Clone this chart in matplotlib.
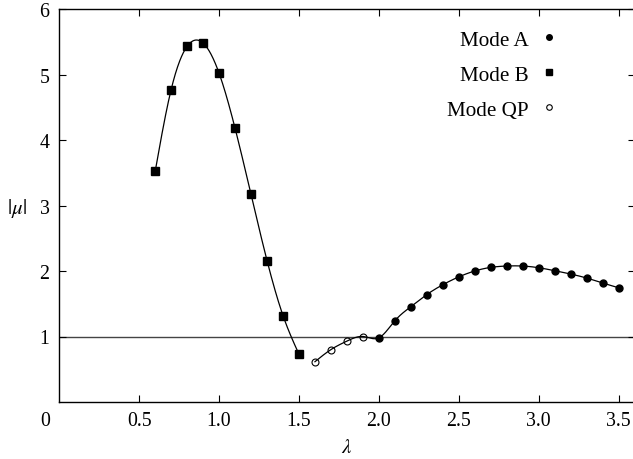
import numpy as np
import matplotlib.pyplot as plt

plt.rcParams['font.family'] = ['Liberation Serif', 'DejaVu Serif']
plt.rcParams['mathtext.fontset'] = 'stix'

# data
lam_b = [0.6, 0.7, 0.8, 0.9, 1.0, 1.1, 1.2, 1.3, 1.4, 1.5]
mu_b = [3.52, 4.77, 5.43, 5.48, 5.02, 4.18, 3.17, 2.16, 1.32, 0.73]

lam_qp = [1.6, 1.7, 1.8, 1.9]
mu_qp = [0.615, 0.80, 0.93, 1.00]

lam_a = [2.0, 2.1, 2.2, 2.3, 2.4, 2.5, 2.6, 2.7, 2.8, 2.9, 3.0, 3.1, 3.2, 3.3, 3.4, 3.5]
mu_a = [0.98, 1.24, 1.455, 1.64, 1.79, 1.91, 2.0, 2.055, 2.076, 2.076, 2.05, 2.005,
        1.954, 1.893, 1.817, 1.745]

x_ticks = [0.5, 1.0, 1.5, 2.0, 2.5, 3.0, 3.5]
y_ticks = [1, 2, 3, 4, 5, 6]


def csplines(x, y, n=400):
    # natural cubic spline through the points (like gnuplot smooth csplines)
    x = np.asarray(x, float)
    y = np.asarray(y, float)
    m = len(x)
    h = np.diff(x)
    A = np.zeros((m, m))
    r = np.zeros(m)
    A[0, 0] = A[-1, -1] = 1
    for i in range(1, m - 1):
        A[i, i - 1] = h[i - 1]
        A[i, i] = 2 * (h[i - 1] + h[i])
        A[i, i + 1] = h[i]
        r[i] = 6 * ((y[i + 1] - y[i]) / h[i] - (y[i] - y[i - 1]) / h[i - 1])
    M = np.linalg.solve(A, r)
    xs = np.linspace(x[0], x[-1], n)
    k = np.clip(np.searchsorted(x, xs) - 1, 0, m - 2)
    t1 = x[k + 1] - xs
    t0 = xs - x[k]
    hk = h[k]
    ys = (M[k] * t1 ** 3 / (6 * hk) + M[k + 1] * t0 ** 3 / (6 * hk)
          + (y[k] / hk - M[k] * hk / 6) * t1 + (y[k + 1] / hk - M[k + 1] * hk / 6) * t0)
    return xs, ys


fig = plt.figure(figsize=(6.33, 4.60), dpi=100)
ax = fig.add_axes([59.3 / 633, 57 / 460, (634.5 - 59.3) / 633, (403 - 10) / 460])

ax.axhline(1, color='#444444', lw=1.0, zorder=1)

xs, ys = csplines(lam_b, mu_b)
ax.plot(xs, ys, color='black', lw=0.9, zorder=2)
xs, ys = csplines(lam_qp + lam_a, mu_qp + mu_a)
ax.plot(xs, ys, color='black', lw=0.9, zorder=2)

ax.plot(lam_a, mu_a, ls='none', marker='o', ms=5.0, color='black', label='Mode A', zorder=3)
ax.plot(lam_b, mu_b, ls='none', marker='s', ms=5.2, color='black', label='Mode B', zorder=3)
ax.plot(lam_qp, mu_qp, ls='none', marker='o', ms=5.0, mfc='none', mec='black', mew=0.8,
        label='Mode QP', zorder=1.5)

ax.set_xlim(0, 3.6)
ax.set_ylim(0, 6)
ax.set_xticks(x_ticks)
ax.set_xticklabels(['%.1f' % v for v in x_ticks])
ax.set_yticks(y_ticks)
ax.tick_params(direction='in', length=5, width=0.8, labelsize=14.3,
               top=True, right=True)
ax.tick_params(axis='x', pad=6.5)
ax.tick_params(axis='y', pad=7)
for s in ax.spines.values():
    s.set_linewidth(1.0)

ax.annotate('0', xy=(0, 0), xycoords='axes fraction', xytext=(-10.5, -13.3),
            textcoords='offset points', ha='center', va='center', fontsize=14.3)
ax.set_xlabel(r'$\lambda$', fontsize=15, labelpad=6)
fig.text(17 / 633, 1 - 209 / 460, r'$|\mu|$', fontsize=15, ha='center', va='center')

leg = ax.legend(loc='upper right', bbox_to_anchor=(556.5 / 633, 1 - 31 / 460),
                bbox_transform=fig.transFigure, frameon=False, markerfirst=False,
                fontsize=15.2, handlelength=0.72, handletextpad=0.6,
                labelspacing=0.72, borderpad=0, borderaxespad=0, markerscale=0.8)

fig.savefig('out.png', dpi=100)
